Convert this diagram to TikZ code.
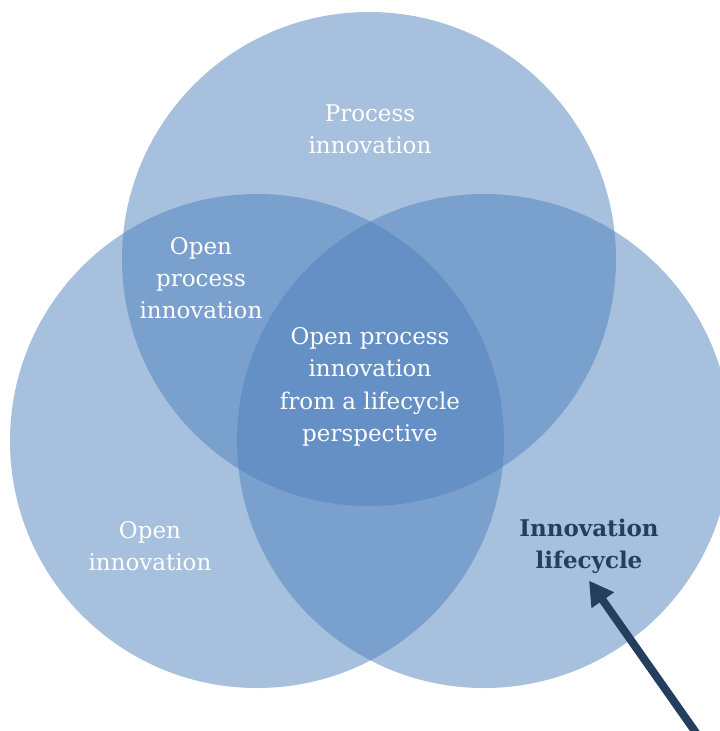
\documentclass[tikz,border=0pt]{standalone}
\usepackage{fontspec}
\setmainfont{DejaVu Serif}
\usetikzlibrary{arrows.meta}

\definecolor{vennblue}{RGB}{79,129,189}
\definecolor{vennnavy}{RGB}{36,62,96}

\begin{document}
\begin{tikzpicture}[x = 1pt, y = -1pt,
        venncircle/.style = {fill = vennblue, fill opacity = 0.5},
        venntext/.style = {text = white, align = center, inner sep = 0pt,
                           font = \fontsize{23}{32.3}\selectfont}]
            \useasboundingbox (0, 0) rectangle (720, 731);

            \fill [venncircle] (369, 259) circle (247pt); % process
            \fill [venncircle] (257, 441) circle (247pt); % open
            \fill [venncircle] (484, 441) circle (247pt); % lifecycle

            \node [venntext] (process) at (370, 129) {Process\\innovation};
            \node [venntext] (openprocess) at (201, 278)
                  {Open\\process\\innovation};
            \node [venntext] (centre) at (370, 387)
                  {Open process\\innovation\\from a lifecycle\\perspective};
            \node [venntext] (open) at (150, 546) {Open\\innovation};
            \node [venntext, text = vennnavy, font = \fontsize{23}{32.3}\selectfont\bfseries]
                  (lifecycle) at (589, 546) {Innovation\\lifecycle};

            \coordinate (tail) at (699, 737);
            \draw [-{Triangle[length = 24pt, width = 26pt]}, line width = 8pt, draw = vennnavy]
                  (tail) -- ([yshift = -7pt] lifecycle.south); % pointer
        \end{tikzpicture}
\end{document}
